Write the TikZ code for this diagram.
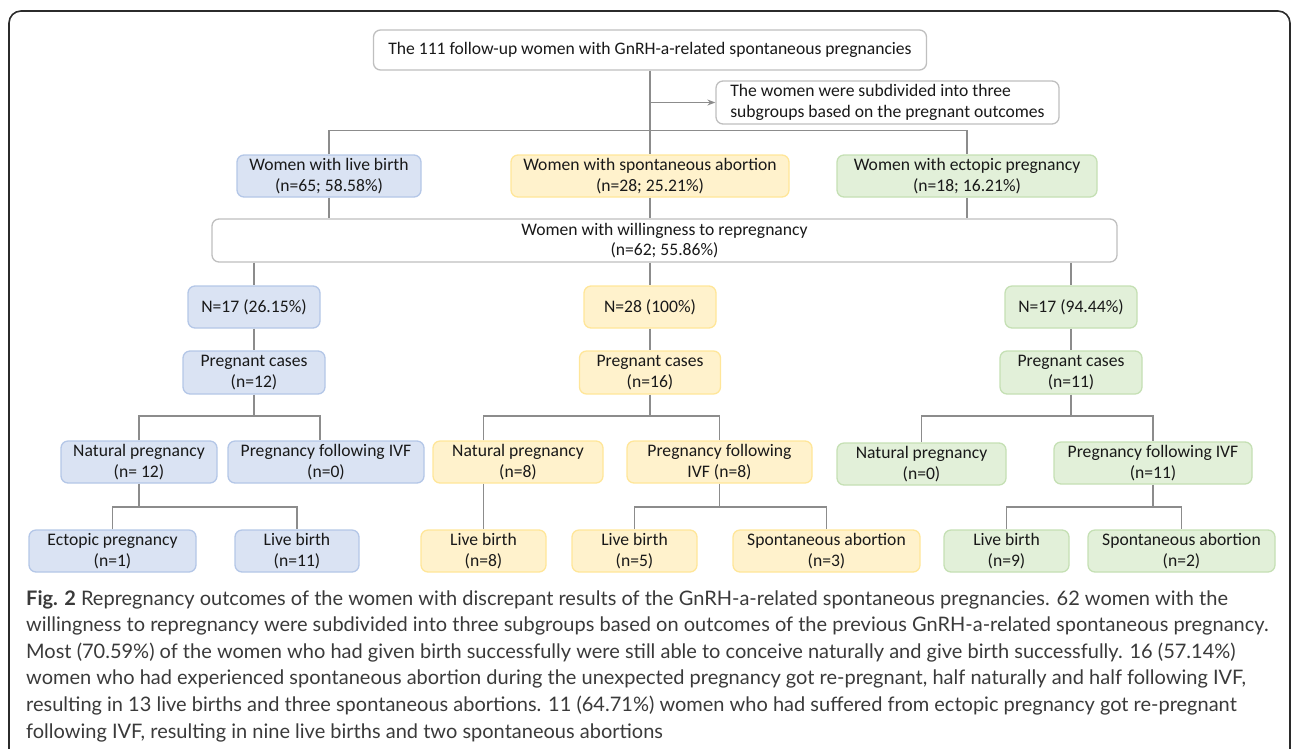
\documentclass[tikz,border=0pt]{standalone}
\usepackage{fontspec}
\setmainfont{Carlito}
\newfontfamily\capfont{Lato}
\usetikzlibrary{arrows.meta}
\definecolor{bfill}{HTML}{DAE3F3}
\definecolor{bline}{HTML}{B4C7E7}
\definecolor{yfill}{HTML}{FFF2CC}
\definecolor{yline}{HTML}{FFE699}
\definecolor{gfill}{HTML}{E2F0D9}
\definecolor{gline}{HTML}{C5E0B4}
\definecolor{wline}{HTML}{BFBFBF}
\definecolor{conncol}{HTML}{8C8C8C}
\definecolor{framecol}{HTML}{2B2B2B}
\definecolor{captext}{HTML}{3A3A3A}
\newcommand\diagfont{\fontsize{17.6}{20.5}\selectfont}
\newcommand\capsize{\capfont\fontsize{20}{26}\selectfont}
\begin{document}
\begin{tikzpicture}[x=1pt,y=-1pt,
  box/.style={draw, rounded corners=7pt, line width=1.3pt, inner sep=0pt, align=center, font=\diagfont, text=black!90},
  wbox/.style={box, fill=white, draw=wline},
  bbox/.style={box, fill=bfill, draw=bline},
  ybox/.style={box, fill=yfill, draw=yline},
  gbox/.style={box, fill=gfill, draw=gline},
  conn/.style={draw=conncol, line width=1.2pt},
  capline/.style={anchor=base west, inner sep=0pt, font=\capsize, text=captext}]
\useasboundingbox (0,0) rectangle (1292,748);
% frame
\draw[framecol, line width=1.6pt, rounded corners=12pt] (9,790) -- (9,11) -- (1290,11) -- (1290,790);
% top level
\node[wbox, minimum width=553pt, minimum height=40pt] (top) at (650,50) {The 111 follow-up women with GnRH-a-related spontaneous pregnancies};
\node[wbox, minimum width=343pt, minimum height=43pt, align=left] (sub) at (887.5,102.5) {The women were subdivided into three\\subgroups based on the pregnant outcomes};
% row 1
\node[bbox, minimum width=184pt, minimum height=42pt] (lb1) at (329,176) {Women with live birth\\(n=65; 58.58\%)};
\node[ybox, minimum width=278pt, minimum height=42pt] (sa1) at (650,176) {Women with spontaneous abortion\\(n=28; 25.21\%)};
\node[gbox, minimum width=260pt, minimum height=42pt] (ep1) at (967,176) {Women with ectopic pregnancy\\(n=18; 16.21\%)};
\node[wbox, minimum width=905pt, minimum height=43pt] (will) at (664.5,240.5) {Women with willingness to repregnancy\\(n=62; 55.86\%)};
% N boxes
\node[bbox, minimum width=132pt, minimum height=42pt] (nb) at (254,307) {N=17 (26.15\%)};
\node[ybox, minimum width=132pt, minimum height=42pt] (ny) at (650,307) {N=28 (100\%)};
\node[gbox, minimum width=132pt, minimum height=42pt] (ng) at (1071,307) {N=17 (94.44\%)};
% pregnant cases
\node[bbox, minimum width=142pt, minimum height=43pt] (pb) at (254,372.5) {Pregnant cases\\(n=12)};
\node[ybox, minimum width=141pt, minimum height=43pt] (py) at (650,372.5) {Pregnant cases\\(n=16)};
\node[gbox, minimum width=142pt, minimum height=43pt] (pg) at (1071,372.5) {Pregnant cases\\(n=11)};
% natural / IVF
\node[bbox, minimum width=156pt, minimum height=42pt] (natb) at (139,462) {Natural pregnancy\\(n= 12)};
\node[bbox, minimum width=196pt, minimum height=42pt] (ivfb) at (326,462) {Pregnancy following IVF\\(n=0)};
\node[ybox, minimum width=170pt, minimum height=42pt] (naty) at (518,462) {Natural pregnancy\\(n=8)};
\node[ybox, minimum width=185pt, minimum height=42pt] (ivfy) at (719.5,462) {Pregnancy following\\IVF (n=8)};
\node[gbox, minimum width=169pt, minimum height=42pt] (natg) at (921.5,464) {Natural pregnancy\\(n=0)};
\node[gbox, minimum width=198pt, minimum height=42pt] (ivfg) at (1153,463) {Pregnancy following IVF\\(n=11)};
% bottom row
\node[bbox, minimum width=167pt, minimum height=42pt] (ecb) at (112.5,551) {Ectopic pregnancy\\(n=1)};
\node[bbox, minimum width=124pt, minimum height=42pt] (lbb) at (297,551) {Live birth\\(n=11)};
\node[ybox, minimum width=125pt, minimum height=42pt] (lby1) at (483.5,551) {Live birth\\(n=8)};
\node[ybox, minimum width=125pt, minimum height=42pt] (lby2) at (634.5,551) {Live birth\\(n=5)};
\node[ybox, minimum width=187pt, minimum height=42pt] (say) at (826.5,551) {Spontaneous abortion\\(n=3)};
\node[gbox, minimum width=125pt, minimum height=42pt] (lbg) at (1006.5,551) {Live birth\\(n=9)};
\node[gbox, minimum width=187pt, minimum height=42pt] (sag) at (1181.5,551) {Spontaneous abortion\\(n=2)};
% connectors
\draw[conn] (top.south) -- (sa1.north);
\draw[conn, -{Stealth[length=8pt,width=6pt]}] (top.south |- sub.west) -- (sub.west);
\draw[conn] (lb1.north) -- ++(0,-24) -| (ep1.north);
\draw[conn] (lb1.south) -- (lb1.south |- will.north);
\draw[conn] (sa1.south) -- (sa1.south |- will.north);
\draw[conn] (ep1.south) -- (ep1.south |- will.north);
\draw[conn] (will.south -| nb.north) -- (nb.north);
\draw[conn] (will.south -| ny.north) -- (ny.north);
\draw[conn] (will.south -| ng.north) -- (ng.north);
\draw[conn] (nb.south) -- (pb.north);
\draw[conn] (ny.south) -- (py.north);
\draw[conn] (ng.south) -- (pg.north);
% pregnant cases split
\draw[conn] (pb.south) -- (pb.south |- 0,416);
\draw[conn] (natb.north) -- (natb.north |- 0,416) -| ([xshift=-6pt]ivfb.north);
\draw[conn] (py.south) -- (py.south |- 0,416);
\draw[conn] (lby1.north |- naty.north) -- (lby1.north |- 0,416) -| (ivfy.north);
\draw[conn] (pg.south) -- (pg.south |- 0,416);
\draw[conn] (natg.north) -- (natg.north |- 0,416) -| (ivfg.north);
% bottom split
\draw[conn] (natb.south) -- (natb.south |- 0,507);
\draw[conn] (ecb.north) -- (ecb.north |- 0,507) -| (lbb.north);
\draw[conn] (lby1.north |- naty.south) -- (lby1.north);
\draw[conn] (ivfy.south) -- (ivfy.south |- 0,507);
\draw[conn] (lby2.north) -- (lby2.north |- 0,507) -| (say.north);
\draw[conn] (ivfg.south) -- (ivfg.south |- 0,507);
\draw[conn] (lbg.north) -- (lbg.north |- 0,507) -| (sag.north);
% caption
\node[capline] (c1) at (26,605) {\textbf{Fig. 2} Repregnancy outcomes of the women with discrepant results of the GnRH-a-related spontaneous pregnancies. 62 women with the};
\node[capline] (c2) at (26,631.6) {willingness to repregnancy were subdivided into three subgroups based on outcomes of the previous GnRH-a-related spontaneous pregnancy.};
\node[capline] (c3) at (26,658.2) {Most (70.59\%) of the women who had given birth successfully were still able to conceive naturally and give birth successfully. 16 (57.14\%)};
\node[capline] (c4) at (26,684.8) {women who had experienced spontaneous abortion during the unexpected pregnancy got re-pregnant, half naturally and half following IVF,};
\node[capline] (c5) at (26,711.4) {resulting in 13 live births and three spontaneous abortions. 11 (64.71\%) women who had suffered from ectopic pregnancy got re-pregnant};
\node[capline] (c6) at (26,738) {following IVF, resulting in nine live births and two spontaneous abortions};
\end{tikzpicture}
\end{document}
